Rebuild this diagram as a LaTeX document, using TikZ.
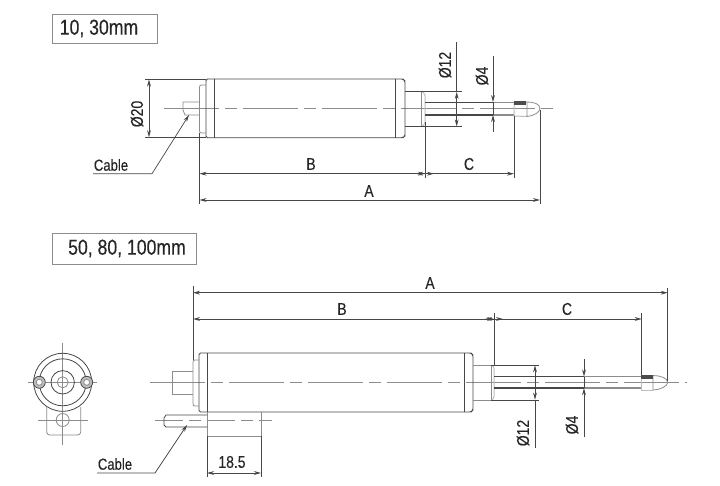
\documentclass[tikz,border=0pt]{standalone}
\usepackage{fontspec}
\setmainfont[FakeStretch=0.82,FakeBold=0.25]{Liberation Sans}
\usetikzlibrary{arrows.meta}
\definecolor{ink}{gray}{0.28}
\definecolor{soft}{gray}{0.55}
\definecolor{pale}{gray}{0.74}
\tikzset{
  part/.style={draw=ink,line width=0.8pt},
  thin part/.style={draw=soft,line width=0.8pt},
  pale part/.style={draw=pale,line width=1pt},
  rod/.style={draw=ink,line width=1.3pt},
  rod end/.style={draw=soft,line width=1.1pt},
  center/.style={draw=soft,line width=0.7pt,dash pattern=on 55pt off 6pt on 12pt off 6pt},
  cross/.style={draw=soft,line width=0.7pt},
  ext/.style={draw=ink,line width=0.7pt},
  dim/.style={draw=ink,line width=0.7pt},
  tip/.style={-{Stealth[length=7pt,width=3.8pt]}},
  tipb/.style={{Stealth[length=7pt,width=3.8pt]}-{Stealth[length=7pt,width=3.8pt]}},
  lab/.style={inner sep=0pt,text=black!85,font=\fontsize{17}{19}\selectfont},
  cablab/.style={inner sep=0pt,text=black!85,font=\fontsize{16}{18}\selectfont},
  title/.style={draw=soft,line width=0.9pt,fill=white,inner sep=0pt,text=black!85,font=\fontsize{21.5}{24}\selectfont},
}
\begin{document}
\begin{tikzpicture}[x=1pt,y=-1pt]
\useasboundingbox (0,0) rectangle (720,486);
\fill[white] (0,0) rectangle (720,486);
% ---------- titles
\node[title,minimum width=105pt,minimum height=29pt] (t1) at (104.5,28.5) {10, 30mm\hspace*{11pt}};
\node[title,minimum width=144pt,minimum height=31pt] (t2) at (124,248.5) {\hspace*{6pt}50, 80, 100mm};
% ---------- upper view
\draw[center] (164,108.5) -- (553,108.5);
\draw[part,rounded corners=1.5pt] (206,137.7) -- (206,79) -- (403,79) -- (405,81) -- (405,136) -- (403,137.7) -- cycle;
\draw[part] (214.7,79) -- (214.7,137.7);
\draw[part] (395,79) -- (395,137.7);
\draw[thin part,rounded corners=2pt] (206,85) -- (199.5,85) -- (199.5,133) -- (206,133);
\draw[thin part] (199,102) -- (183,102) -- (183,110) -- (185,115) -- (199,115);
\draw[part] (405,91.7) -- (421.7,91.7) (405,126.7) -- (421.7,126.7);
\draw[thin part] (421.7,91.7) -- (421.7,126.7);
\draw[pale part,rounded corners=1.5pt] (421.7,91.7) -- (425,94) -- (425,124) -- (421.7,126.7);
\draw[rod] (425,102.3) -- (493,102.3) (425,115) -- (493,115);
\draw[rod end] (493,102.3) -- (514,102.3) (493,115) -- (514,115);
\draw[pale part] (514,102) -- (514,116) -- (527,116.5);
\draw[thin part] (514,102) -- (527,102) .. controls (534,102) and (540,104) .. (540,108.5) .. controls (540,112) and (534,116) .. (527,116.5) -- (527,102);
\fill[black!70] (514,101.5) rectangle (526,105.5);
% dims upper
\draw[ext] (145,79) -- (206,79) (145,137.7) -- (206,137.7);
\draw[dim,tipb] (149,79.5) -- (149,137.2);
\node[lab,rotate=90] (d20) at (137,114) {Ø20};
\draw[ext] (199.5,133) -- (199.5,204);
\draw[ext] (425,122) -- (425,178);
\draw[ext] (514,116) -- (514,178);
\draw[ext] (540,110) -- (540,204);
\draw[dim,tipb] (199.5,173.7) -- (425,173.7);
\draw[dim,tip] (425,173.7) -- (416,173.7);
\draw[dim,tip] (425,173.7) -- (514,173.7);
\draw[dim,tip] (425,173.7) -- (434,173.7);
\draw[dim,tipb] (199.5,200) -- (540,200);
\node[lab] (lb1) at (311,164) {B};
\node[lab] (lc1) at (469,164) {C};
\node[lab] (la1) at (369,191) {A};
\draw[ext] (421,91.7) -- (461.7,91.7) (421,126.7) -- (461.7,126.7);
\draw[dim,tipb] (456.7,92) -- (456.7,126.4);
\draw[dim] (456.7,42) -- (456.7,92);
\node[lab,rotate=90] (d12a) at (445,65) {Ø12};
\draw[dim,tip] (493,56) -- (493,102);
\draw[dim,tip] (493,132) -- (493,115);
\draw[dim] (493,102) -- (493,115);
\node[lab,rotate=90] (d4a) at (482,76) {Ø4};
\coordinate (cab1) at (189,115);
\node[cablab] (c1) at (111,165) {Cable};
\draw[dim,tip] (93,173.7) -- (152,173.7) -- (cab1);
% ---------- end view
\draw[cross] (62.7,342.7) -- (62.7,445);
\draw[cross] (28,382.3) -- (97,382.3);
\draw[cross] (38,420) -- (88,420);
\draw[part] (62.7,382.3) circle (29);
\draw[part] (62.7,382.3) circle (23.5);
\draw[part] (62.7,382.3) circle (11.7);
\draw[thin part] (62.7,382.3) circle (5.5);
\draw[part,fill=pale] (39.3,382.3) circle (6);
\draw[part,fill=pale] (86.7,382.3) circle (6);
\draw[thin part,fill=white] (39.3,382.3) circle (3);
\draw[thin part,fill=white] (86.7,382.3) circle (3);
\draw[thin part,rounded corners=3pt] (46.7,407) -- (46.7,435) -- (80.7,435) -- (80.7,407);
\draw[thin part] (62.7,420) circle (6.5);
% ---------- lower view
\draw[center] (150,382.5) -- (687,382.5);
\draw[part,rounded corners=1.5pt] (199,412) -- (199,353) -- (471,353) -- (473,355) -- (473,410) -- (471,412) -- cycle;
\draw[part] (207,353) -- (207,412);
\draw[part] (464,353) -- (464,412);
\draw[thin part,rounded corners=2pt] (199,360) -- (193,360) -- (193,406) -- (199,406);
\draw[thin part] (193,371) -- (172,371) -- (172,394) -- (193,394);
\draw[thin part] (207,412) -- (207,436) -- (261,436) -- (261,412);
\draw[center,dash pattern=on 28pt off 6pt on 12pt off 6pt] (155,420) -- (272,420);
\draw[part] (207,415) -- (166,415) -- (164,418) -- (164,425) -- (166,427) -- (207,427);
\draw[thin part] (473,365) -- (491.7,365) (473,400) -- (491.7,400);
\draw[thin part] (491.7,365) -- (491.7,400);
\draw[pale part,rounded corners=1.5pt] (491.7,365) -- (494,367) -- (494,398) -- (491.7,400);
\draw[rod] (494,376.7) -- (584,376.7) (494,388) -- (584,388);
\draw[rod end] (584,376.7) -- (641,376.7) (584,388) -- (641,388);
\draw[pale part] (641,375.5) -- (641,390) -- (653,390);
\draw[thin part] (641,375.5) -- (653,375.5) .. controls (660,375.5) and (667.7,378) .. (667.7,382.5) .. controls (667.7,386) and (660,390) .. (653,390) -- (653,375.5);
\fill[black!70] (641,375) rectangle (653,379);
% dims lower
\draw[ext] (193,360) -- (193,286);
\draw[ext] (494,365) -- (494,313);
\draw[ext] (641.7,375) -- (641.7,313);
\draw[ext] (667.7,381) -- (667.7,288);
\draw[dim,tipb] (193,292.7) -- (667.7,292.7);
\draw[dim,tipb] (193,319) -- (494,319);
\draw[dim,tip] (494,319) -- (485,319);
\draw[dim,tip] (494,319) -- (641.7,319);
\draw[dim,tip] (494,319) -- (503,319);
\node[lab] (la2) at (430,283) {A};
\node[lab] (lb2) at (342,309) {B};
\node[lab] (lc2) at (567,309) {C};
\draw[ext] (491,365) -- (539,365) (491,400) -- (539,400);
\draw[dim,tipb] (535,365.3) -- (535,399.7);
\draw[dim] (535,400) -- (535,448);
\node[lab,rotate=90] (d12b) at (523,433) {Ø12};
\draw[dim,tip] (584,359) -- (584,376.5);
\draw[dim,tip] (584,437) -- (584,388.2);
\draw[dim] (584,376.5) -- (584,388.2);
\node[lab,rotate=90] (d4b) at (572,425) {Ø4};
\draw[ext] (207,436) -- (207,477) (261,436) -- (261,477);
\draw[dim,tipb] (207,473) -- (261,473);
\node[lab] (d185) at (232,462) {18.5};
\coordinate (cab2) at (187,425);
\node[cablab] (c2) at (115,464) {Cable};
\draw[dim,tip] (97,473) -- (155,473) -- (cab2);
\end{tikzpicture}
\end{document}
